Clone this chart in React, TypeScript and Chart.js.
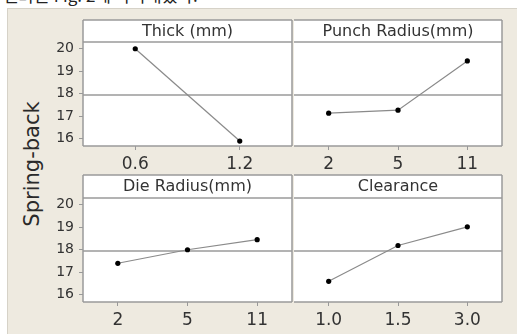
import React, { useEffect, useRef } from 'react';
import { Chart, registerables } from 'chart.js';

Chart.register(...registerables);

// ---- data ----
const thickLabels = ['0.6', '1.2'];
const thickValues = [20.0, 15.9];
const punchLabels = ['2', '5', '11'];
const punchValues = [17.14, 17.27, 19.46];
const dieLabels = ['2', '5', '11'];
const dieValues = [17.4, 18.0, 18.45];
const clearanceLabels = ['1.0', '1.5', '3.0'];
const clearanceValues = [16.6, 18.19, 19.02];
const panelTitles = ['Thick (mm)', 'Punch Radius(mm)', 'Die Radius(mm)', 'Clearance'];
const overallMean = 17.95;
const yTickValues = [16, 17, 18, 19, 20];
const yMin = 15.68;
const yMax = 20.3;
const yAxisTitle = 'Spring-back';
const topText = '결과는 Fig. 2에 나타내었다.';

const FONT = '"DejaVu Sans", sans-serif';
const LINE = '#9a9a9a';

const panelPlugin = {
  id: 'panelBox',
  beforeDraw(chart: any, _args: any, opts: any) {
    const { ctx, chartArea: a } = chart;
    const stripH = opts.stripH;
    ctx.save();
    ctx.fillStyle = '#ffffff';
    ctx.fillRect(a.left, a.top - stripH, a.right - a.left, a.bottom - a.top + stripH);
    ctx.restore();
  },
  beforeDatasetsDraw(chart: any, _args: any, opts: any) {
    const { ctx, chartArea: a } = chart;
    const y = chart.scales.y.getPixelForValue(opts.mean);
    ctx.save();
    ctx.strokeStyle = LINE;
    ctx.lineWidth = 1.5;
    ctx.beginPath();
    ctx.moveTo(a.left, y);
    ctx.lineTo(a.right, y);
    ctx.stroke();
    ctx.restore();
  },
  afterDraw(chart: any, _args: any, opts: any) {
    const { ctx, chartArea: a } = chart;
    const stripH = opts.stripH;
    const t = a.top - stripH;
    ctx.save();
    ctx.strokeStyle = LINE;
    ctx.lineWidth = 1.5;
    ctx.beginPath();
    ctx.moveTo(a.left, t);
    ctx.lineTo(a.right, t);
    ctx.moveTo(a.right, t);
    ctx.lineTo(a.right, a.bottom);
    ctx.moveTo(a.left, a.bottom);
    ctx.lineTo(a.right, a.bottom);
    if (opts.drawLeft) {
      ctx.moveTo(a.left, t);
      ctx.lineTo(a.left, a.bottom);
    }
    ctx.moveTo(a.left, a.top);
    ctx.lineTo(a.right, a.top);
    ctx.stroke();
    ctx.fillStyle = '#333';
    ctx.font = `16px ${FONT}`;
    ctx.textAlign = 'center';
    ctx.textBaseline = 'middle';
    ctx.fillText(opts.title, (a.left + a.right) / 2, a.top - stripH / 2 + 0.5);
    ctx.restore();
  },
};

type PanelProps = {
  title: string;
  labels: string[];
  values: number[];
  showY: boolean;
  left: number;
  top: number;
  width: number;
  height: number;
  stripH: number;
};

function Panel(p: PanelProps) {
  const ref = useRef<HTMLCanvasElement>(null);
  useEffect(() => {
    const chart = new Chart(ref.current as HTMLCanvasElement, {
      type: 'line',
      data: {
        labels: p.labels,
        datasets: [
          {
            data: p.values,
            borderColor: '#8a8a8a',
            borderWidth: 1.2,
            pointRadius: 2.6,
            pointBackgroundColor: '#000',
            pointBorderColor: '#000',
            pointBorderWidth: 0,
            tension: 0,
          },
        ],
      },
      options: {
        responsive: false,
        animation: false,
        devicePixelRatio: 1,
        layout: { padding: { top: 2 + p.stripH, left: p.showY ? 0 : 3, right: 3, bottom: 0 } },
        plugins: {
          legend: { display: false },
          tooltip: { enabled: false },
          title: { display: false },
          panelBox: { mean: overallMean, stripH: p.stripH, title: p.title, drawLeft: p.showY },
        } as any,
        scales: {
          x: {
            type: 'category',
            offset: true,
            afterFit: (s: any) => {
              s.height = 32;
            },
            grid: { display: true, drawOnChartArea: false, drawTicks: true, tickLength: 4, color: '#999', offset: false },
            border: { display: false },
            ticks: { color: '#333', font: { family: FONT, size: 17 }, padding: 4, maxRotation: 0, autoSkip: false },
          },
          y: {
            display: p.showY,
            min: yMin,
            max: yMax,
            afterFit: (s: any) => {
              if (p.showY) s.width = 43;
            },
            afterBuildTicks: (s: any) => {
              s.ticks = yTickValues.map((v) => ({ value: v }));
            },
            grid: { drawOnChartArea: false, drawTicks: true, tickLength: 4, color: '#999' },
            border: { display: false },
            ticks: { color: '#333', font: { family: FONT, size: 14 }, padding: 5 },
          },
        },
      } as any,
      plugins: [panelPlugin],
    });
    return () => chart.destroy();
  }, []);
  return (
    <canvas
      ref={ref}
      width={p.width}
      height={p.height}
      style={{ position: 'absolute', left: p.left, top: p.top, width: p.width, height: p.height }}
    />
  );
}

export default function App() {
  return (
    <div style={{ position: 'absolute', left: 0, top: 0, width: 517, height: 334, overflow: 'hidden', background: '#fff' }}>
      <div style={{ position: 'absolute', left: 0, top: 0, width: 517, height: 8, overflow: 'hidden' }}>
        <div
          style={{
            position: 'absolute',
            left: 3,
            top: -15,
            fontFamily: '"Noto Sans CJK KR", sans-serif',
            fontSize: 17,
            lineHeight: '20px',
            whiteSpace: 'nowrap',
            color: '#222',
          }}
        >
          {topText}
        </div>
      </div>
      <div
        style={{
          position: 'absolute',
          left: 7,
          top: 8,
          width: 510,
          height: 326,
          background: '#EEEAE0',
          borderTop: '1px solid #d6d2c8',
          borderLeft: '1px solid #d6d2c8',
          boxSizing: 'border-box',
        }}
      />
      <div
        style={{
          position: 'absolute',
          left: 32,
          top: 164,
          transform: 'translate(-50%, -50%) rotate(-90deg)',
          fontFamily: FONT,
          fontSize: 21,
          color: '#2a2a2a',
          whiteSpace: 'nowrap',
        }}
      >
        {yAxisTitle}
      </div>
      <Panel title={panelTitles[0]} labels={thickLabels} values={thickValues} showY={true} left={40} top={18} width={256} height={160} stripH={22} />
      <Panel title={panelTitles[1]} labels={punchLabels} values={punchValues} showY={false} left={290} top={18} width={216} height={160} stripH={22} />
      <Panel title={panelTitles[2]} labels={dieLabels} values={dieValues} showY={true} left={40} top={173} width={256} height={161} stripH={23} />
      <Panel title={panelTitles[3]} labels={clearanceLabels} values={clearanceValues} showY={false} left={290} top={173} width={216} height={161} stripH={23} />
    </div>
  );
}
